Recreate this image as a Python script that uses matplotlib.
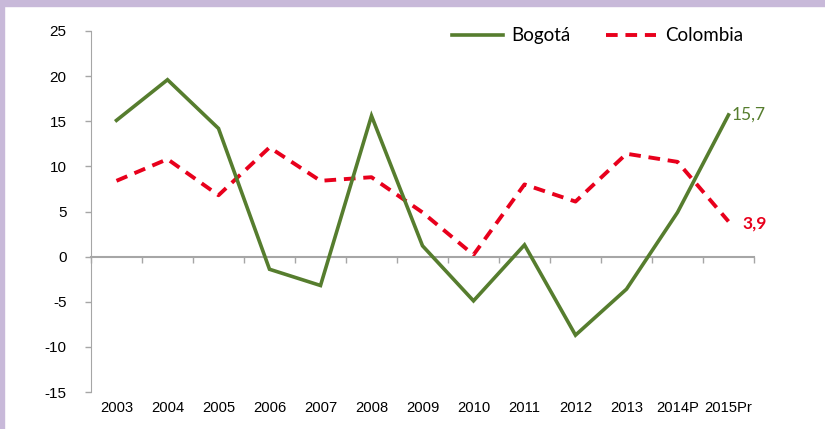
import matplotlib.pyplot as plt
from matplotlib.patches import Rectangle

plt.rcParams['font.family'] = 'Liberation Sans'
plt.rcParams['axes.unicode_minus'] = False

anios = ['2003', '2004', '2005', '2006', '2007', '2008', '2009', '2010',
         '2011', '2012', '2013', '2014P', '2015Pr']
bogota = [15.1, 19.6, 14.2, -1.4, -3.2, 15.6, 1.2, -4.9, 1.3, -8.7, -3.6, 4.9, 15.7]
colombia = [8.4, 10.8, 6.8, 12.1, 8.4, 8.8, 4.9, 0.2, 8.0, 6.1, 11.4, 10.5, 3.9]

verde = '#567d2e'
rojo = '#e8001c'
gris = '#a6a6a6'

fig = plt.figure(figsize=(8.25, 4.29), dpi=100)
fig.patch.set_facecolor('white')
# marco lila arriba y a la izquierda
fig.patches.append(Rectangle((0, 1 - 6 / 429), 1, 6 / 429, transform=fig.transFigure,
                             color='#c8b9d9', zorder=0))
fig.patches.append(Rectangle((0, 0), 4 / 825, 1, transform=fig.transFigure,
                             color='#c8b9d9', zorder=0))

ax = fig.add_axes([91 / 825, 37 / 429, 663 / 825, 361 / 429])
x = list(range(len(anios)))

ax.plot(x, bogota, color=verde, lw=2.6, label='Bogotá', solid_joinstyle='miter', zorder=3)
ax.plot(x, colombia, color=rojo, lw=2.8, linestyle=(0, (3.0, 2.0)), label='Colombia', zorder=2)

ax.set_xlim(-0.5, len(anios) - 0.5)
ax.set_ylim(-15, 25)
ax.set_yticks(range(-15, 30, 5))
ax.tick_params(axis='y', length=4.5, color=gris, width=1, pad=13, labelsize=11)

ax.spines['top'].set_visible(False)
ax.spines['right'].set_visible(False)
ax.spines['left'].set_color(gris)
ax.spines['bottom'].set_color(gris)
ax.spines['bottom'].set_linewidth(1.5)
ax.spines['bottom'].set_position(('data', 0))

ax.set_xticks([i - 0.5 for i in range(len(anios) + 1)])
ax.set_xticklabels([])
ax.tick_params(axis='x', length=4.5, color=gris, width=1, direction='out')

for i, a in enumerate(anios):
    ax.text(i, -0.044, a, transform=ax.get_xaxis_transform(), ha='center', va='center',
            fontsize=10.6)

ax.text(x[-1] + 0.06, bogota[-1], '15,7', color=verde, fontsize=12.5, family='Lato',
        ha='left', va='center')
ax.text(x[-1] + 0.27, colombia[-1] - 0.2, '3,9', color=rojo, fontsize=12.5, family='Lato',
        fontweight='bold', ha='left', va='center')

leg = ax.legend(loc='upper left', bbox_to_anchor=(344 / 663, 1.057), ncol=2, frameon=False,
                prop={'family': 'Lato', 'size': 13.5}, handlelength=2.7, columnspacing=1.9,
                handletextpad=0.45)

plt.savefig('out.png', dpi=100)
